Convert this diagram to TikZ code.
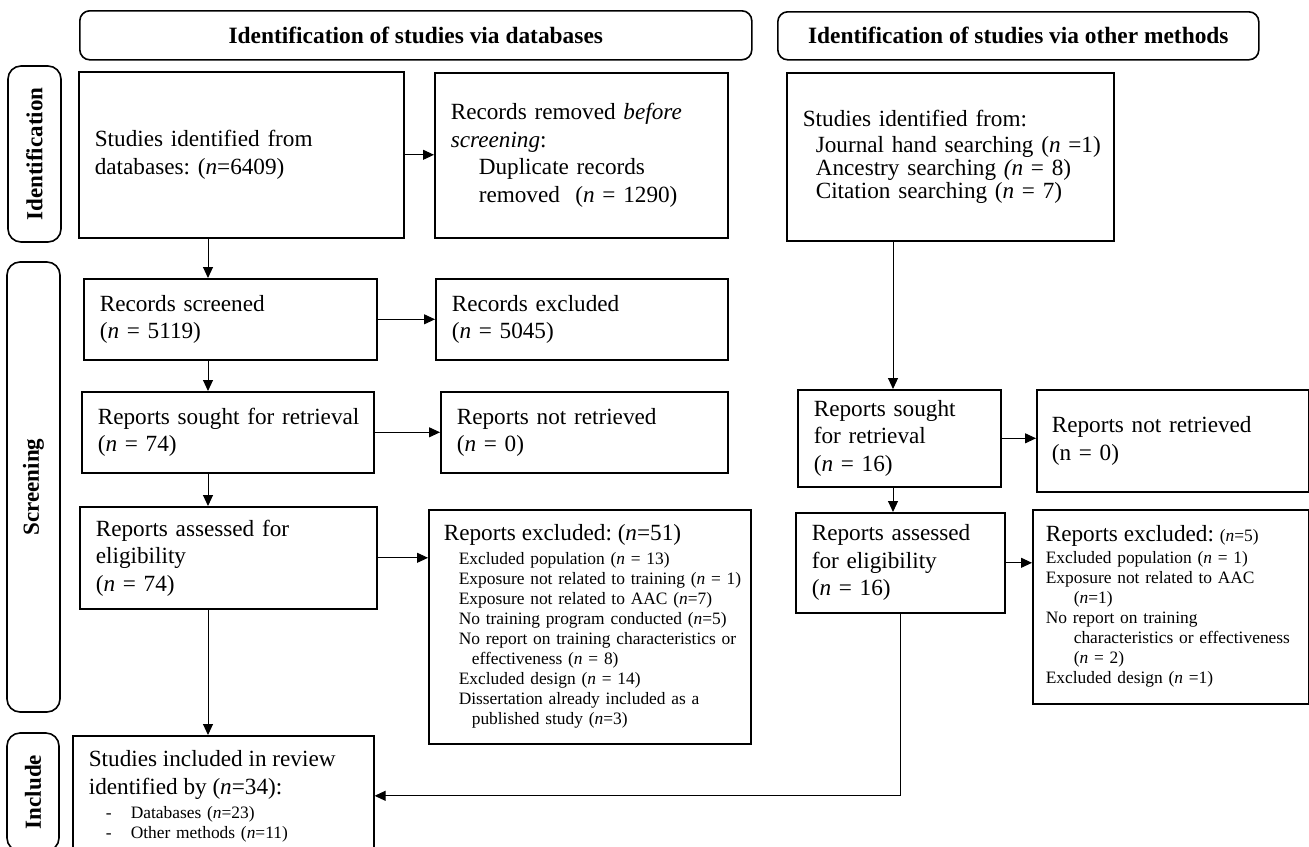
\documentclass[tikz,border=0pt]{standalone}
\usepackage{fontspec}
\setmainfont{Liberation Serif}
\usetikzlibrary{arrows.meta}
\frenchspacing

\begin{document}
\begin{tikzpicture}[x=1pt, y=-1pt,
    box/.style={draw, line width=0.8pt, anchor=north west, inner xsep=8pt,
      inner ysep=0pt, align=left, font=\fontsize{11.6}{13.75}\selectfont,
      execute at begin node={\rightskip=-14pt plus 1fil\relax}},
    small/.style={font=\fontsize{8.7}{10}\selectfont},
    head/.style={draw, line width=0.8pt, rounded corners=5pt, anchor=north west,
      font=\fontsize{11.7}{14}\selectfont\bfseries},
    side/.style={draw, line width=0.8pt, rounded corners=6.5pt, rotate=90,
      inner sep=0pt, font=\fontsize{11.5}{14}\selectfont\bfseries},
    flow/.style={->, line width=0.5pt},
    >={Triangle[length=5.5pt,width=5pt]}]

  \path[use as bounding box, clip] (0,0) rectangle (654.5,423);

  % headers and phases
  \node[head, minimum width=336pt, minimum height=24.5pt] (dbhead) at (39.5,5)
    {Identification of studies via databases};
  \node[head, minimum width=240.5pt, minimum height=24pt] (othhead) at (388.5,5.5)
    {Identification of studies via other methods};
  \node[side, minimum width=88pt, minimum height=26.5pt] (phid) at (17.25,77) {Identification};
  \node[side, minimum width=225pt, minimum height=26.5pt] (phscr) at (16.75,243.5) {Screening};
  \node[side, minimum width=59pt, minimum height=26pt] (phinc) at (16.5,396) {Include};

  % databases
  \node[box, text width=146.5pt, minimum height=83pt] (dbid) at (39,35.5)
    {Studies identified from\\ databases: (\textit{n}=6409)};
  \node[box, text width=130.5pt, minimum height=82.5pt] (dbdup) at (217,36)
    {Records removed \textit{before}\\ \textit{screening}:\\
     \hspace*{14pt}Duplicate records\\ \hspace*{14pt}removed\ \ (\textit{n} = 1290)};
  \node[box, text width=130.5pt, minimum height=40.5pt] (dbscr) at (41.5,139)
    {Records screened\\ (\textit{n} = 5119)};
  \node[box, text width=130pt, minimum height=40.5pt] (dbexc) at (217.5,139)
    {Records excluded\\ (\textit{n} = 5045)};
  \node[box, text width=130pt, minimum height=40.5pt] (dbsought) at (40.5,195.5)
    {Reports sought for retrieval\\ (\textit{n} = 74)};
  \node[box, text width=127.5pt, minimum height=40.5pt] (dbnot) at (220,195.5)
    {Reports not retrieved\\ (\textit{n} = 0)};
  \node[box, text width=132.5pt, minimum height=51pt] (dbelig) at (39.5,253)
    {Reports assessed for\\ eligibility\\ (\textit{n} = 74)};
  \node[box, small, inner xsep=7.5pt, text width=146pt, minimum height=117pt] (dbrep) at (214,254.5)
    {{\fontsize{11.6}{13.75}\selectfont Reports excluded: (\textit{n}=51)}\\[2pt]
     \hspace*{7.5pt}Excluded population (\textit{n} = 13)\\
     \hspace*{7.5pt}Exposure not related to training (\textit{n} = 1)\\
     \hspace*{7.5pt}Exposure not related to AAC (\textit{n}=7)\\
     \hspace*{7.5pt}No training program conducted (\textit{n}=5)\\
     \hspace*{7.5pt}No report on training characteristics or\\
     \hspace*{14pt}effectiveness (\textit{n} = 8)\\
     \hspace*{7.5pt}Excluded design (\textit{n} = 14)\\
     \hspace*{7.5pt}Dissertation already included as a\\
     \hspace*{14pt}published study (\textit{n}=3)};
  \node[box, small, text width=134.5pt, minimum height=60pt] (incl) at (36,367.5)
    {{\fontsize{11.6}{13.75}\selectfont Studies included in review}\\[4pt]
     {\fontsize{11.6}{13.75}\selectfont identified by (\textit{n}=34):}\\[2pt]
     \hspace*{8.5pt}-\hspace*{9.6pt}Databases (\textit{n}=23)\\
     \hspace*{8.5pt}-\hspace*{9.6pt}Other methods (\textit{n}=11)};

  % other methods
  \node[box, text width=147.5pt, minimum height=84pt, font=\fontsize{11.6}{11.5}\selectfont] (othid) at (393,36)
    {Studies identified from:\\[1.5pt]
     \hspace*{6.5pt}Journal hand searching (\textit{n} =1)\\
     \hspace*{6.5pt}Ancestry searching \textit{(n} = 8)\\
     \hspace*{6.5pt}Citation searching (\textit{n} = 7)};
  \node[box, text width=85.5pt, minimum height=48.5pt] (othsought) at (398.5,194.5)
    {Reports sought\\ for retrieval\\ (\textit{n} = 16)};
  \node[box, inner xsep=7.5pt, text width=121pt, minimum height=51pt] (othnot) at (518,194.5)
    {Reports not retrieved\\ (n = 0)};
  \node[box, text width=88.5pt, minimum height=50pt] (othelig) at (397.5,256)
    {Reports assessed\\ for eligibility\\ (\textit{n} = 16)};
  \node[box, small, inner xsep=6.5pt, text width=125pt, minimum height=97pt] (othrep) at (516,254.5)
    {{\fontsize{11.6}{13.75}\selectfont Reports excluded:} (\textit{n}=5)\\[1pt]
     Excluded population (\textit{n} = 1)\\
     Exposure not related to AAC\\
     \hspace*{14pt}(\textit{n}=1)\\
     No report on training\\
     \hspace*{14pt}characteristics or effectiveness\\
     \hspace*{14pt}(\textit{n} = 2)\\
     Excluded design (\textit{n} =1)};

  % connectors
  \coordinate (colL) at (104,0);
  \coordinate (colR) at (446.5,0);
  \draw[flow] (dbid.east) -- (dbid.east -| dbdup.west);
  \draw[flow] (dbid.south -| colL) -- (dbscr.north -| colL);
  \draw[flow] (dbscr.east) -- (dbscr.east -| dbexc.west);
  \draw[flow] (dbscr.south -| colL) -- (dbsought.north -| colL);
  \draw[flow] (dbsought.east) -- (dbsought.east -| dbnot.west);
  \draw[flow] (dbsought.south -| colL) -- (dbelig.north -| colL);
  \draw[flow] (dbelig.east) -- (dbelig.east -| dbrep.west);
  \draw[flow] (dbelig.south -| colL) -- (incl.north -| colL);
  \draw[flow] (othid.south -| colR) -- (othsought.north -| colR);
  \draw[flow] (othsought.east) -- (othsought.east -| othnot.west);
  \draw[flow] (othsought.south -| colR) -- (othelig.north -| colR);
  \draw[flow] (othelig.east) -- (othelig.east -| othrep.west);
  \draw[flow] (othelig.south) |- (incl.east);
\end{tikzpicture}
\end{document}
